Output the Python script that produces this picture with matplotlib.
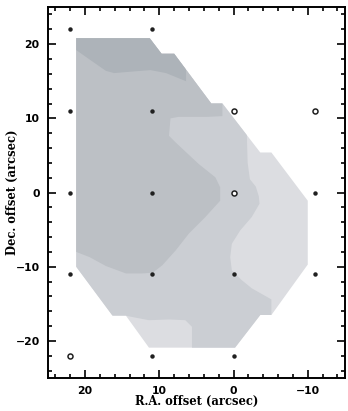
import matplotlib as mpl
mpl.use('Agg')
import matplotlib.pyplot as plt
from matplotlib.patches import Polygon
from matplotlib.ticker import MultipleLocator

# pointing positions (RA offset, Dec offset) in arcsec
filled_ra = [22, 11, 22, 11, 22, 11, -11, 22, 11, 0, -11, 11, 0]
filled_dec = [22, 22, 11, 11, 0, 0, 0, -11, -11, -11, -11, -22, -22]
open_ra = [0, -11, 0, 22]
open_dec = [11, 11, 0, -22]

# edge of the mapped area
map_ra = [21.2, 11.3, 9.7, 8.0, 3.0, 1.5, -3.6, -5.1, -10.0, -10.0, -5.1, -3.6, -0.2, 11.4, 14.5, 16.3, 21.2]
map_dec = [20.8, 20.8, 18.7, 18.7, 12.0, 12.0, 5.4, 5.4, -1.1, -9.7, -16.5, -16.5, -20.9, -20.9, -16.6, -16.6, -10.0]

# contour boundaries (filled region lies toward the upper left)
lev2_ra = [30, -1.7, -1.8, -1.9, -2.2, -3.0, -3.4, -3.5, -2.45, -0.9, 0.23, 0.45, 0.23, -1.1, -2.45, -5.1,
           -5.1, 5.6, 5.6, 6.5, 8.7, 11.4, 13.5, 14.5, 30]
lev2_dec = [30, 30, 7.4, 4.0, 1.8, 0.8, -0.5, -1.5, -3.3, -5.1, -6.9, -8.7, -10.5, -11.8, -12.9, -14.4,
            -30, -30, -18.1, -17.2, -17.1, -17.2, -16.8, -16.6, -16.6]
lev3_ra = [30, 1.5, 1.5, 3.5, 7.4, 8.5, 8.7, 7.8, 4.7, 2.45, 1.8, 1.8, 3.8, 6.0, 7.8, 9.6, 10.9, 12.3,
           14.5, 17.2, 19.4, 21.2, 30]
lev3_dec = [30, 30, 10.3, 10.2, 10.2, 10.0, 7.65, 6.75, 3.85, 2.05, 0.7, -1.1, -3.3, -5.5, -7.8, -9.8,
            -10.8, -10.9, -10.9, -9.9, -8.7, -8.0, -7.0]
lev4_ra = [30, 6.4, 6.4, 9.1, 11.2, 13.7, 16.1, 17.2, 19.5, 21.2, 30]
lev4_dec = [30, 30, 15.0, 16.1, 16.5, 16.3, 16.1, 16.4, 18.0, 19.2, 19.5]

colors = ['#dcdde1', '#cbced3', '#bcc0c5', '#adb3b9']

fig = plt.figure(figsize=(3.48, 4.11), dpi=100)
ax = fig.add_axes([0.138, 0.080, 0.853, 0.903])

outline = Polygon(list(zip(map_ra, map_dec)), closed=True, facecolor=colors[0], edgecolor='none', zorder=1)
ax.add_patch(outline)
for (ra, dec), c in zip([(lev2_ra, lev2_dec), (lev3_ra, lev3_dec), (lev4_ra, lev4_dec)], colors[1:]):
    p = ax.fill(ra, dec, facecolor=c, edgecolor='none', zorder=2)[0]
    p.set_clip_path(outline)

ax.plot(filled_ra, filled_dec, 'o', ms=3.2, color='#202020', mec='none', zorder=3)
ax.plot(open_ra, open_dec, 'o', ms=3.6, mfc='white', mec='#202020', mew=1.1, zorder=3)

ax.set_xlim(25, -15)
ax.set_ylim(-25, 25)
ax.set_aspect('equal')

ax.xaxis.set_major_locator(MultipleLocator(10))
ax.xaxis.set_minor_locator(MultipleLocator(2))
ax.yaxis.set_major_locator(MultipleLocator(10))
ax.yaxis.set_minor_locator(MultipleLocator(2))
ax.tick_params(which='both', direction='in', top=True, right=True, width=1.2)
ax.tick_params(which='major', length=6, labelsize=7.8, pad=6)
ax.tick_params(which='minor', length=3)
for s in ax.spines.values():
    s.set_linewidth(1.4)
for lab in ax.get_xticklabels() + ax.get_yticklabels():
    lab.set_fontweight('bold')
    lab.set_family('DejaVu Sans')

ax.set_xlabel('R.A. offset (arcsec)', fontsize=8.3, fontweight='bold', family='DejaVu Serif')
ax.set_ylabel('Dec. offset (arcsec)', fontsize=8.3, fontweight='bold', family='DejaVu Serif')
ax.xaxis.set_label_coords(0.5, -0.046)
ax.yaxis.set_label_coords(-0.098, 0.5)

fig.savefig('out.png', dpi=100)
